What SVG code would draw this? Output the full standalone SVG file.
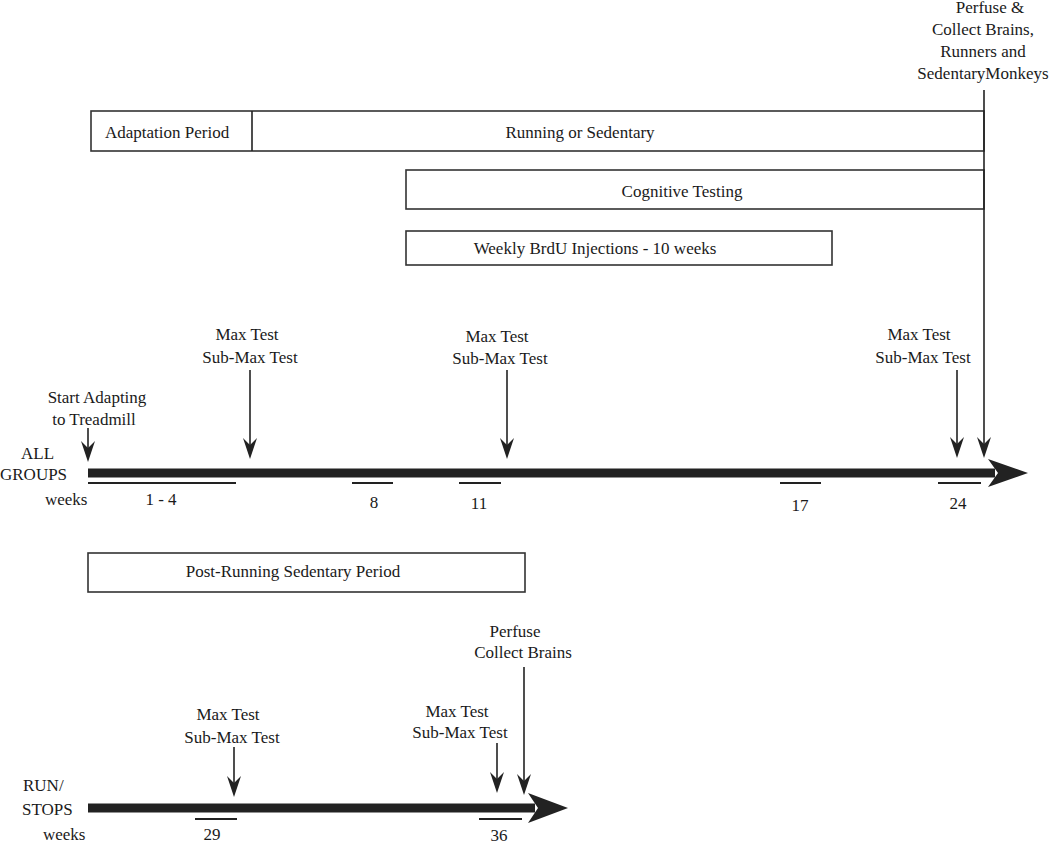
<svg xmlns="http://www.w3.org/2000/svg" width="1050" height="844" viewBox="0 0 1050 844">
<style>
text{font-family:"Liberation Serif","Times New Roman",serif;font-size:17px;fill:#1a1a1a}
.m{text-anchor:middle}
.box{fill:#fff;stroke:#333;stroke-width:1.6}
.thin{stroke:#222;stroke-width:1.6;fill:none}
.bar{stroke:#222;stroke-width:1.8}
.thick{stroke:#222;stroke-width:9}
.head{fill:#222}
</style>
<rect width="1050" height="844" fill="#fff"/>
<g id="running-box">
<rect class="box" x="91" y="111" width="893" height="40"/>
<line class="thin" x1="252" y1="111" x2="252" y2="151"/>
<text x="105" y="138">Adaptation Period</text>
<text class="m" x="580" y="138">Running or Sedentary</text>
</g>
<g id="cognitive-box">
<rect class="box" x="406" y="170" width="578" height="39"/>
<text class="m" x="682" y="197">Cognitive Testing</text>
</g>
<g id="brdu-box">
<rect class="box" x="406" y="231" width="426" height="34"/>
<text class="m" x="595" y="254">Weekly BrdU Injections - 10 weeks</text>
</g>
<g id="perfuse-label">
<text class="m" x="990" y="13">Perfuse &amp;</text>
<text class="m" x="983" y="35">Collect Brains,</text>
<text class="m" x="983" y="57">Runners and</text>
<text class="m" x="983" y="79">SedentaryMonkeys</text>
</g>
<g id="all-groups-timeline">
<text x="21" y="459">ALL</text>
<text x="0" y="480">GROUPS</text>
<text x="45" y="505">weeks</text>
<line class="thick" x1="88" y1="473" x2="995" y2="473"/>
<path class="head" d="M988,459 L1028,473 L988,487 L998,473 Z"/>
<line class="bar" x1="88" y1="483" x2="236" y2="483"/>
<line class="bar" x1="352" y1="483" x2="393" y2="483"/>
<line class="bar" x1="459" y1="483" x2="501" y2="483"/>
<line class="bar" x1="780" y1="483" x2="821" y2="483"/>
<line class="bar" x1="938" y1="483" x2="981" y2="483"/>
<text class="m" x="161" y="505">1 - 4</text>
<text class="m" x="374" y="508">8</text>
<text class="m" x="479" y="509">11</text>
<text class="m" x="800" y="511">17</text>
<text class="m" x="958" y="509">24</text>
</g>
<g id="start-label">
<text class="m" x="97" y="403">Start Adapting</text>
<text class="m" x="94" y="425">to Treadmill</text>
</g>
<g id="maxtest-1">
<text class="m" x="247" y="340">Max Test</text>
<text class="m" x="250" y="363">Sub-Max Test</text>
</g>
<g id="maxtest-2">
<text class="m" x="497" y="342">Max Test</text>
<text class="m" x="500" y="364">Sub-Max Test</text>
</g>
<g id="maxtest-3">
<text class="m" x="919" y="340">Max Test</text>
<text class="m" x="923" y="363">Sub-Max Test</text>
</g>
<g id="post-running-box">
<rect class="box" x="88" y="553" width="437" height="39"/>
<text class="m" x="293" y="577">Post-Running Sedentary Period</text>
</g>
<g id="run-stops-timeline">
<text x="23" y="791">RUN/</text>
<text x="22" y="815">STOPS</text>
<text x="43" y="840">weeks</text>
<line class="thick" x1="88" y1="808" x2="535" y2="808"/>
<path class="head" d="M528,793 L568,808 L528,823 L538,808 Z"/>
<line class="bar" x1="195" y1="819" x2="237" y2="819"/>
<line class="bar" x1="479" y1="819" x2="522" y2="819"/>
<text class="m" x="212" y="840">29</text>
<text class="m" x="499" y="841">36</text>
</g>
<g id="maxtest-4">
<text class="m" x="228" y="720">Max Test</text>
<text class="m" x="232" y="743">Sub-Max Test</text>
</g>
<g id="maxtest-5">
<text class="m" x="457" y="717">Max Test</text>
<text class="m" x="460" y="738">Sub-Max Test</text>
</g>
<g id="perfuse-2">
<text class="m" x="515" y="637">Perfuse</text>
<text class="m" x="523" y="658">Collect Brains</text>
</g>
<g id="connectors">
<line class="thin" x1="984" y1="90" x2="984" y2="448"/>
<path class="head" d="M977,437 L984,458 L991,437 L984,444 Z"/>
<line class="thin" x1="88" y1="428" x2="88" y2="452"/>
<path class="head" d="M81,441 L88,462 L95,441 L88,448 Z"/>
<line class="thin" x1="250" y1="370" x2="250" y2="449"/>
<path class="head" d="M243,438 L250,459 L257,438 L250,445 Z"/>
<line class="thin" x1="507" y1="370" x2="507" y2="449"/>
<path class="head" d="M500,438 L507,459 L514,438 L507,445 Z"/>
<line class="thin" x1="957" y1="370" x2="957" y2="448"/>
<path class="head" d="M950,437 L957,458 L964,437 L957,444 Z"/>
<line class="thin" x1="234" y1="747" x2="234" y2="787"/>
<path class="head" d="M227,776 L234,797 L241,776 L234,783 Z"/>
<line class="thin" x1="497" y1="743" x2="497" y2="783"/>
<path class="head" d="M490,772 L497,793 L504,772 L497,779 Z"/>
<line class="thin" x1="524" y1="667" x2="524" y2="785"/>
<path class="head" d="M517,774 L524,795 L531,774 L524,781 Z"/>
</g>
</svg>
